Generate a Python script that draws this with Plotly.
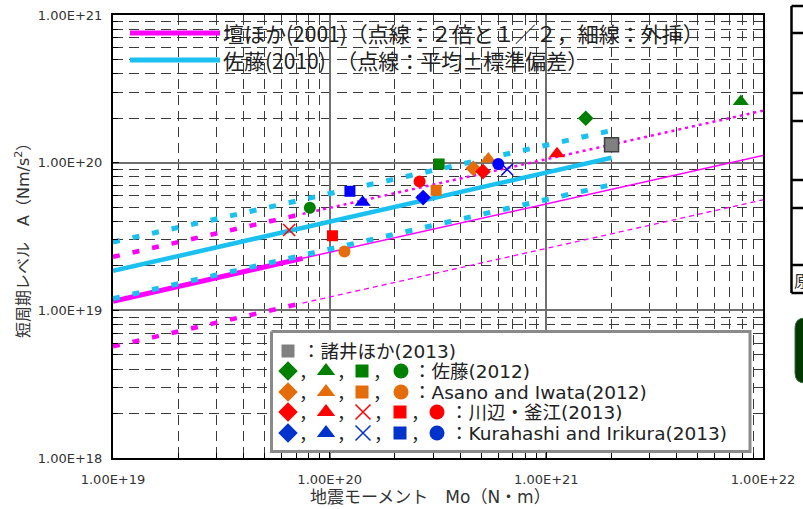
import plotly.graph_objects as go

# ---------------- data ----------------
# Dan et al. (2001): thick part, thin extrapolation, x2 and x1/2
dan_M_thick = [1.0e19, 7.5e19]
dan_A_thick = [1.15e19, 2.25e19]
dan_M_thin = [7.5e19, 1.0e22]
dan_A_thin = [2.25e19, 1.12e20]
dan2_A_thick = [2.3e19, 4.5e19]
dan2_A_thin = [4.5e19, 2.25e20]
danh_A_thick = [5.7e18, 1.12e19]
danh_A_thin = [1.12e19, 5.6e19]

# Sato (2010): mean and mean +/- std
sato_M = [1.0e19, 2.0e21]
sato_A = [1.85e19, 1.08e20]
sato_up = [2.9e19, 1.65e20]
sato_lo = [1.2e19, 7.1e19]

# data points  (M0 [N*m], A [Nm/s^2])
morii_M, morii_A = [2.0e21], [1.32e20]

sato12_dia_M, sato12_dia_A = [1.52e21], [2.0e20]
sato12_tri_M, sato12_tri_A = [7.9e21], [2.6e20]
sato12_sq_M, sato12_sq_A = [3.2e20], [9.8e19]
sato12_cir_M, sato12_cir_A = [8.1e19], [4.95e19]

asano_dia_M, asano_dia_A = [4.6e20], [9.15e19]
asano_tri_M, asano_tri_A = [5.4e20], [1.06e20]
asano_sq_M, asano_sq_A = [3.1e20], [6.5e19]
asano_cir_M, asano_cir_A = [1.17e20], [2.5e19]

kawabe_dia_M, kawabe_dia_A = [5.1e20], [8.7e19]
kawabe_tri_M, kawabe_tri_A = [1.12e21], [1.15e20]
kawabe_x_M, kawabe_x_A = [6.5e19], [3.5e19]
kawabe_sq_M, kawabe_sq_A = [1.03e20], [3.2e19]
kawabe_cir_M, kawabe_cir_A = [2.6e20], [7.45e19]

kura_dia_M, kura_dia_A = [2.7e20], [5.8e19]
kura_tri_M, kura_tri_A = [1.42e20], [5.4e19]
kura_x_M, kura_x_A = [6.6e20], [9.0e19]
kura_sq_M, kura_sq_A = [1.24e20], [6.4e19]
kura_cir_M, kura_cir_A = [6.0e20], [9.8e19]

x_tickvals = [1e19, 1e20, 1e21, 1e22]
x_ticktext = ["1.00E+19", "1.00E+20", "1.00E+21", "1.00E+22"]
y_tickvals = [1e18, 1e19, 1e20, 1e21]
y_ticktext = ["1.00E+18", "1.00E+19", "1.00E+20", "1.00E+21"]
minor_x = [k * 10.0 ** e for e in (19, 20, 21) for k in range(2, 10)]
minor_y = [k * 10.0 ** e for e in (18, 19, 20) for k in range(2, 10)]

legend_rows = ["：諸井ほか(2013)", "：佐藤(2012)", "：Asano and Iwata(2012)",
               "：川辺・釜江(2013)", "：Kurahashi and Irikura(2013)"]
top_legend = ["壇ほか(2001)（点線：２倍と１／２，細線：外挿）",
              "佐藤(2010)　（点線：平均±標準偏差）"]

# ---------------- styles ----------------
MAG = "#FF00FF"
CYA = "#19C0F0"
GRN = "#008000"
ORG = "#E46C0A"
RED = "#FF0000"
BLU = "#0000FF"
GRY = "#808080"
FONT = "DejaVu Sans, Noto Sans CJK JP, sans-serif"
CJK = "Noto Sans CJK JP, DejaVu Sans, sans-serif"

W, H = 803, 509
L, R, T, B = 113, 763, 15, 458


def px(x):
    return (x - L) / (R - L)


def py(y):
    return (B - y) / (B - T)


fig = go.Figure()


def line(xs, ys, color, width, dash="solid"):
    fig.add_trace(go.Scatter(x=xs, y=ys, mode="lines", showlegend=False, hoverinfo="skip",
                             line=dict(color=color, width=width, dash=dash)))


# Dan lines
line(dan_M_thick, danh_A_thick, MAG, 4.5, "7px,13px")
line(dan_M_thin, danh_A_thin, MAG, 1.3, "5px,4px")
line(dan_M_thick, dan2_A_thick, MAG, 4.5, "7px,13px")
line(dan_M_thin, dan2_A_thin, MAG, 2.5, "3px,4px")
line(dan_M_thin, dan_A_thin, MAG, 1.5)
line(dan_M_thick, dan_A_thick, MAG, 5)
# Sato lines
line(sato_M, sato_up, CYA, 5, "7px,13px")
line(sato_M, sato_lo, CYA, 5, "7px,13px")
line(sato_M, sato_A, CYA, 4.5)


def pts(xs, ys, symbol, color, size, lw=0, lc=None):
    fig.add_trace(go.Scatter(x=xs, y=ys, mode="markers", showlegend=False, hoverinfo="skip",
                             marker=dict(symbol=symbol, color=color, size=size,
                                         line=dict(width=lw, color=lc if lc else color))))


pts(sato12_dia_M, sato12_dia_A, "diamond", GRN, 12)
pts(sato12_tri_M, sato12_tri_A, "triangle-up", GRN, 14)
pts(sato12_sq_M, sato12_sq_A, "square", GRN, 11)
pts(sato12_cir_M, sato12_cir_A, "circle", GRN, 12)
pts(asano_dia_M, asano_dia_A, "diamond", ORG, 12)
pts(asano_tri_M, asano_tri_A, "triangle-up", ORG, 14)
pts(asano_sq_M, asano_sq_A, "square", ORG, 11)
pts(asano_cir_M, asano_cir_A, "circle", ORG, 12)
pts(kawabe_dia_M, kawabe_dia_A, "diamond", RED, 12)
pts(kawabe_tri_M, kawabe_tri_A, "triangle-up", RED, 14)
pts(kawabe_x_M, kawabe_x_A, "x-thin-open", RED, 12, 1.5)
pts(kawabe_sq_M, kawabe_sq_A, "square", RED, 11)
pts(kawabe_cir_M, kawabe_cir_A, "circle", RED, 12)
pts(kura_dia_M, kura_dia_A, "diamond", BLU, 12)
pts(kura_tri_M, kura_tri_A, "triangle-up", BLU, 14)
pts(kura_x_M, kura_x_A, "x-thin-open", BLU, 12, 1.5)
pts(kura_sq_M, kura_sq_A, "square", BLU, 11)
pts(kura_cir_M, kura_cir_A, "circle", BLU, 12)
pts(morii_M, morii_A, "square", GRY, 14, 1.5, "#404040")

# ---------------- legend keys on a pixel-space overlay axis ----------------
def ov(**kw):
    d = dict(mode="lines", showlegend=False, hoverinfo="skip", xaxis="x2", yaxis="y2")
    d.update(kw)
    fig.add_trace(go.Scatter(**d))


ov(x=[130, 220], y=[33, 33], line=dict(color=MAG, width=5))
ov(x=[130, 220], y=[60, 60], line=dict(color=CYA, width=5))
# bottom legend box
ov(x=[271.5, 750, 750, 271.5, 271.5], y=[331.5, 331.5, 451.5, 451.5, 331.5],
   fill="toself", fillcolor="white", line=dict(color="#8a8a8a", width=3))

rows_y = [351, 371, 392, 412, 433]
legend_keys = [
    [("square", GRY, 288)],
    [("diamond", GRN, 288), ("triangle-up", GRN, 326), ("square", GRN, 362), ("circle", GRN, 401)],
    [("diamond", ORG, 288), ("triangle-up", ORG, 326), ("square", ORG, 362), ("circle", ORG, 401)],
    [("diamond", RED, 288), ("triangle-up", RED, 326), ("x-thin-open", RED, 363),
     ("square", RED, 400), ("circle", RED, 437)],
    [("diamond", "#0033CC", 288), ("triangle-up", "#0033CC", 326), ("x-thin-open", "#0033CC", 363),
     ("square", "#0033CC", 400), ("circle", "#0033CC", 437)],
]
sizes = {"square": 13, "diamond": 15, "triangle-up": 16, "circle": 15, "x-thin-open": 15}
text_x = [300, 411, 411, 448, 448]
annotations = []
for ry, keys, tx, label in zip(rows_y, legend_keys, text_x, legend_rows):
    for i, (sym, col, kx) in enumerate(keys):
        ov(x=[kx], y=[ry], mode="markers",
           marker=dict(symbol=sym, color=col, size=sizes[sym],
                       line=dict(width=1.5 if sym == "x-thin-open" else 0, color=col)))
        if len(keys) > 1 and i < len(keys) - 1:
            annotations.append(dict(x=kx + 9, y=ry, xref="x2", yref="y2", text="，",
                                    showarrow=False, xanchor="left", yanchor="middle",
                                    font=dict(family=CJK, size=18, color="#222")))
    annotations.append(dict(x=tx, y=ry, xref="x2", yref="y2", text=label, showarrow=False,
                            xanchor="left", yanchor="middle",
                            font=dict(family=FONT, size=18.5, color="#222")))

for ty, t in zip([33, 60], top_legend):
    annotations.append(dict(x=221, y=ty, xref="x2", yref="y2", text=t, showarrow=False,
                            xanchor="left", yanchor="middle",
                            font=dict(family=CJK, size=21, color="#222")))

# axis titles
annotations.append(dict(x=px(430), y=py(497), xref="paper", yref="paper",
                        text="地震モーメント　Mo（N・m）", showarrow=False,
                        xanchor="center", yanchor="middle",
                        font=dict(family=FONT, size=17, color="#333")))
annotations.append(dict(x=px(22), y=py(236), xref="paper", yref="paper",
                        text="短周期レベル　A（Nm/s<sup>2</sup>）", showarrow=False, textangle=-90,
                        xanchor="center", yanchor="middle",
                        font=dict(family=FONT, size=16, color="#333")))
annotations.append(dict(x=px(792), y=py(280), xref="paper", yref="paper", text="原",
                        showarrow=False, xanchor="left", yanchor="middle",
                        font=dict(family=CJK, size=16, color="#333")))

# right-side cropped table and green box
shapes = []
tx0 = px(791.5)
shapes.append(dict(type="line", xref="paper", yref="paper", x0=tx0, x1=tx0, y0=py(6), y1=py(293),
                   line=dict(color="black", width=2.5)))
for hy in [6, 33, 93, 121, 180, 208, 265, 293]:
    shapes.append(dict(type="line", xref="paper", yref="paper", x0=tx0, x1=px(815), y0=py(hy), y1=py(hy),
                       line=dict(color="black", width=2.5)))
gx0, gx1, gy0, gy1, rr = 795, 830, 318, 383, 10
path = (f"M {px(gx0 + rr)},{py(gy0)} L {px(gx1)},{py(gy0)} L {px(gx1)},{py(gy1)} "
        f"L {px(gx0 + rr)},{py(gy1)} Q {px(gx0)},{py(gy1)} {px(gx0)},{py(gy1 - rr)} "
        f"L {px(gx0)},{py(gy0 + rr)} Q {px(gx0)},{py(gy0)} {px(gx0 + rr)},{py(gy0)} Z")
shapes.append(dict(type="path", xref="paper", yref="paper", path=path,
                   fillcolor="#033803", line=dict(color="#3d6e3d", width=1)))

minor_common = dict(tickmode="array", showgrid=True, griddash="10px,6px", gridcolor="#3a3a3a",
                    gridwidth=1, ticks="inside", ticklen=5, tickcolor="black")

fig.update_layout(
    width=W, height=H, autosize=False,
    margin=dict(l=L, r=W - R, t=T, b=H - B, pad=0),
    paper_bgcolor="white", plot_bgcolor="white",
    showlegend=False,
    font=dict(family=FONT, color="#333"),
    xaxis=dict(type="log", range=[19, 22], tickvals=x_tickvals, ticktext=x_ticktext,
               showgrid=True, gridcolor="#707070", gridwidth=1.5, automargin=False,
               showline=True, linecolor="black", linewidth=2, mirror=True,
               ticks="inside", ticklen=6, tickcolor="black", ticklabelstandoff=8,
               tickfont=dict(family=FONT, size=13, color="#333"),
               minor=dict(tickvals=minor_x, **minor_common), zeroline=False),
    yaxis=dict(type="log", range=[18, 21], tickvals=y_tickvals, ticktext=y_ticktext,
               showgrid=True, gridcolor="#707070", gridwidth=1.5, automargin=False,
               showline=True, linecolor="black", linewidth=2, mirror=True,
               ticks="inside", ticklen=6, tickcolor="black", ticklabelstandoff=6,
               tickfont=dict(family=FONT, size=13, color="#333"),
               minor=dict(tickvals=minor_y, **minor_common), zeroline=False),
    xaxis2=dict(overlaying="x", anchor="y2", range=[L, R], visible=False, fixedrange=True,
                automargin=False),
    yaxis2=dict(overlaying="y", anchor="x2", range=[B, T], visible=False, fixedrange=True,
                automargin=False),
    annotations=annotations,
    shapes=shapes,
)

fig.write_html("out.html", config={"responsive": False, "displayModeBar": False},
               post_script="document.body.style.margin='0px';document.body.style.overflow='hidden';")
